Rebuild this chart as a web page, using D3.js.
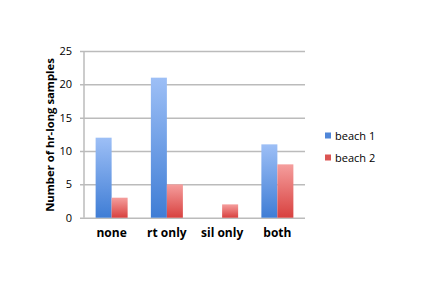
<!DOCTYPE html>
<html>
<head>
<meta charset="utf-8">
<script src="https://cdn.jsdelivr.net/npm/d3@7"></script>
<style>
	body { margin: 0; background: #fff; }
	text { font-family: "Open Sans", sans-serif; fill: #000; }
</style>
</head>
<body>
<div id="chart"></div>
<script>
var categories = ["none", "rt only", "sil only", "both"];
var seriesNames = ["beach 1", "beach 2"];
var beach1 = [12, 21, 0, 11];
var beach2 = [3, 5, 2, 8];
var yTicks = [0, 5, 10, 15, 20, 25];

var W = 422, H = 288;
var plotLeft = 84, plotRight = 305, plotTop = 51, plotBottom = 217.7;

var svg = d3.select("#chart").append("svg")
	.attr("width", W)
	.attr("height", H);

var defs = svg.append("defs");
function grad(id, c1, c2) {
	var g = defs.append("linearGradient").attr("id", id)
		.attr("x1", 0).attr("y1", 0).attr("x2", 0).attr("y2", 1);
	g.append("stop").attr("offset", "0%").attr("stop-color", c1);
	g.append("stop").attr("offset", "100%").attr("stop-color", c2);
}
grad("g0", "#9dbff6", "#3f7dd5");
grad("g1", "#f59e9d", "#d8413f");
var fills = ["url(#g0)", "url(#g1)"];
var legendColors = ["#4f86d8", "#db5553"];

var x = d3.scaleBand().domain(categories).range([plotLeft, plotRight]);
var x1 = d3.scaleBand().domain(seriesNames).range([0, 32]);
var y = d3.scaleLinear().domain([0, 25]).range([plotBottom, plotTop]);

// gridlines + labels
var yAxis = svg.append("g")
	.attr("transform", "translate(80,0)")
	.call(d3.axisLeft(y).tickValues(yTicks).tickSize(-(plotRight - 80)).tickPadding(8));
yAxis.select(".domain").remove();
yAxis.selectAll(".tick line").attr("stroke", "#bbbbbb").attr("stroke-width", 1.5);
yAxis.selectAll(".tick text")
	.style("font-family", "'Open Sans', sans-serif")
	.attr("font-size", 11).attr("fill", "#000");

svg.append("line")
	.attr("x1", plotLeft).attr("x2", plotLeft)
	.attr("y1", plotTop).attr("y2", plotBottom)
	.attr("stroke", "#bbbbbb").attr("stroke-width", 1.5);

var series = [beach1, beach2];
series.forEach(function(vals, si) {
	svg.append("g").selectAll("rect")
		.data(vals)
		.enter().append("rect")
			.attr("x", function(d, i) { return x(categories[i]) + x.bandwidth() / 2 - 16 + x1(seriesNames[si]); })
			.attr("width", x1.bandwidth())
			.attr("y", function(d) { return y(d); })
			.attr("height", function(d) { return plotBottom - y(d); })
			.attr("fill", fills[si]);
});

// category labels
svg.append("g").selectAll("text")
	.data(categories)
	.enter().append("text")
		.attr("x", function(d) { return x(d) + x.bandwidth() / 2; })
		.attr("y", 236.5)
		.attr("text-anchor", "middle")
		.attr("font-size", 12)
		.attr("font-weight", "bold")
		.text(function(d) { return d; });

// y title
svg.append("text")
	.attr("transform", "translate(54,135) rotate(-90)")
	.attr("text-anchor", "middle")
	.attr("font-size", 11.3)
	.attr("font-weight", "bold")
	.text("Number of hr-long samples");

// legend
var legend = svg.append("g").selectAll("g")
	.data(seriesNames)
	.enter().append("g")
		.attr("transform", function(d, i) { return "translate(325," + (132.5 + i * 22) + ")"; });
legend.append("rect")
	.attr("width", 6).attr("height", 6)
	.attr("fill", function(d, i) { return legendColors[i]; });
legend.append("text")
	.attr("x", 10).attr("y", 7)
	.attr("font-size", 11)
	.text(function(d) { return d; });
</script>
</body>
</html>
